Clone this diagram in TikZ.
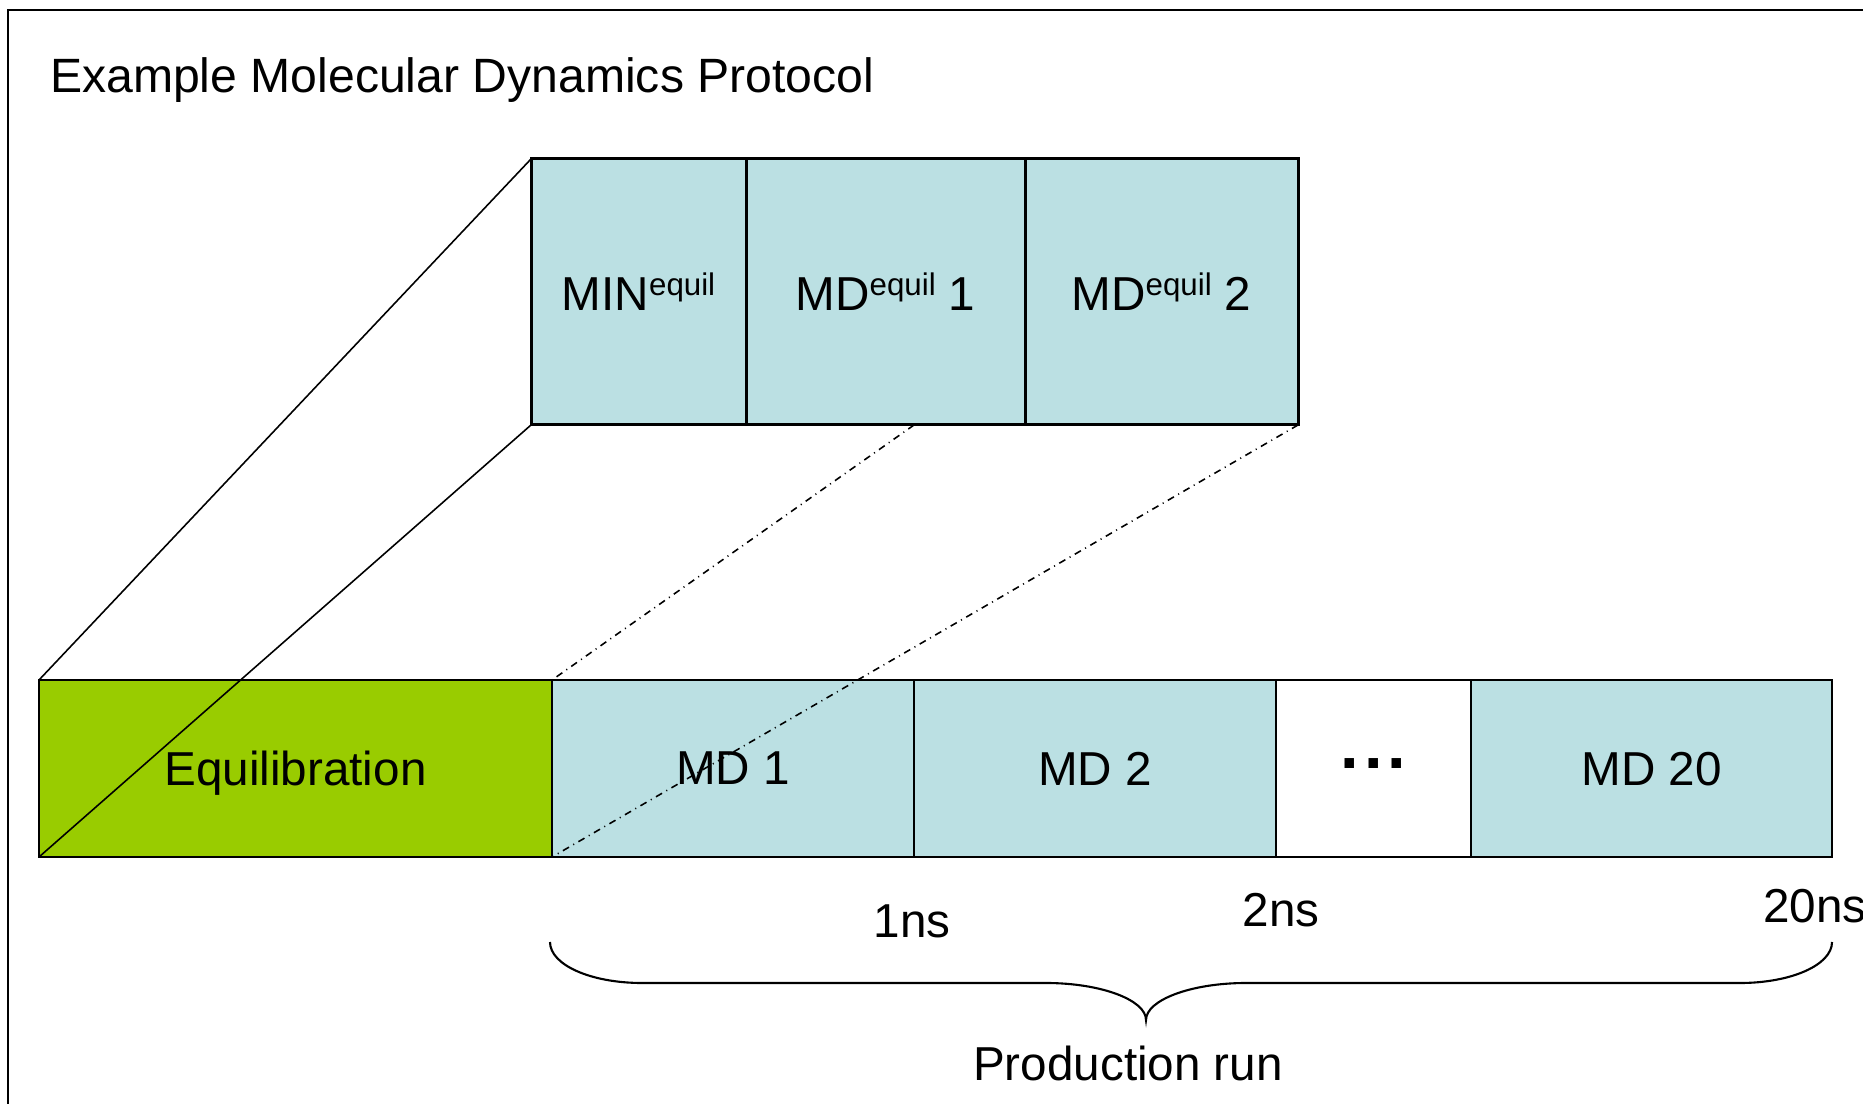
\documentclass[tikz,border=0pt]{standalone}
\usepackage{fontspec}
\setmainfont{Liberation Sans}
\usepackage{tikz}
\usetikzlibrary{positioning}
\definecolor{mdblue}{HTML}{BBE0E3}
\definecolor{eqgreen}{HTML}{99CC00}
\newcommand{\eqsup}[1]{\raisebox{4.3pt}{\fontsize{8.9}{9}\selectfont #1}}

\begin{document}
\begin{tikzpicture}[line width=0.6pt,
			font=\fontsize{13.55}{16}\selectfont,
			stage/.style={draw, line width=0.7pt, fill=mdblue, inner sep=0pt, outer sep=0pt,
							minimum height=1.77cm, text depth=0pt},
			sub/.style={draw, line width=0.85pt, fill=mdblue, inner sep=0pt, outer sep=0pt,
							minimum height=2.66cm},
			zoomln/.style={line width=0.45pt},
			dashdot/.style={line width=0.45pt, dash pattern=on 2pt off 1.4pt on 0.3pt off 1.4pt}]

		\clip (0,0) rectangle (18.63,11.03);
		\draw (0.08,-1) rectangle (20,10.93);
		\node[anchor=base west, inner sep=0pt, font=\fontsize{13.7}{16}\selectfont] (title) at (0.49,10.10)
			{Example Molecular Dynamics Protocol};

		% production row
		\node[stage, fill=eqgreen, minimum width=5.13cm, anchor=north west] (equil) at (0.39,4.23) {Equilibration};
		\node[stage, minimum width=3.62cm, right=0pt of equil] (md1) {MD 1};
		\node[stage, minimum width=3.62cm, right=0pt of md1] (md2) {MD 2};
		\node[stage, fill=white, minimum width=1.95cm, right=0pt of md2,
			font=\fontsize{19}{19}\selectfont\bfseries] (dots) {\raisebox{0.1cm}{.\hspace{1.4pt}.\hspace{1.4pt}.}};
		\node[stage, minimum width=3.61cm, right=0pt of dots] (md20) {MD 20};

		% equilibration stages
		\node[sub, minimum width=2.15cm, anchor=north west] (minq) at (5.31,9.44) {MIN\eqsup{equil}};
		\node[sub, minimum width=2.79cm, right=0pt of minq] (mdqa) {MD\eqsup{equil} 1};
		\node[sub, minimum width=2.73cm, right=0pt of mdqa] (mdqb) {MD\eqsup{equil} 2};

		\draw[zoomln] (minq.north west) -- (equil.north west);
		\draw[zoomln] (minq.south west) -- (equil.south west);
		\coordinate (cut) at (md1.east |- mdqa.south);
		\draw[dashdot] (cut) -- (md1.north west);
		\draw[dashdot] (mdqb.south east) -- (md1.south west);

		\node (t1) at (9.12,1.82) {1ns};
		\node (t2) at (12.81,1.93) {2ns};
		\node (t20) at (18.15,1.97) {20ns};

		\draw[line width=0.6pt] (5.50,1.61) .. controls (5.50,1.38) and (5.91,1.20) .. (6.42,1.20)
			-- (10.46,1.20) .. controls (11.01,1.20) and (11.46,1.03) .. (11.46,0.83)
			.. controls (11.46,1.03) and (11.91,1.20) .. (12.46,1.20)
			-- (17.40,1.20) .. controls (17.91,1.20) and (18.32,1.38) .. (18.32,1.61);
		\node (prod) at (11.28,0.40) {Production run};
		%\node at (9.3,0.2) {};
	\end{tikzpicture}
\end{document}
